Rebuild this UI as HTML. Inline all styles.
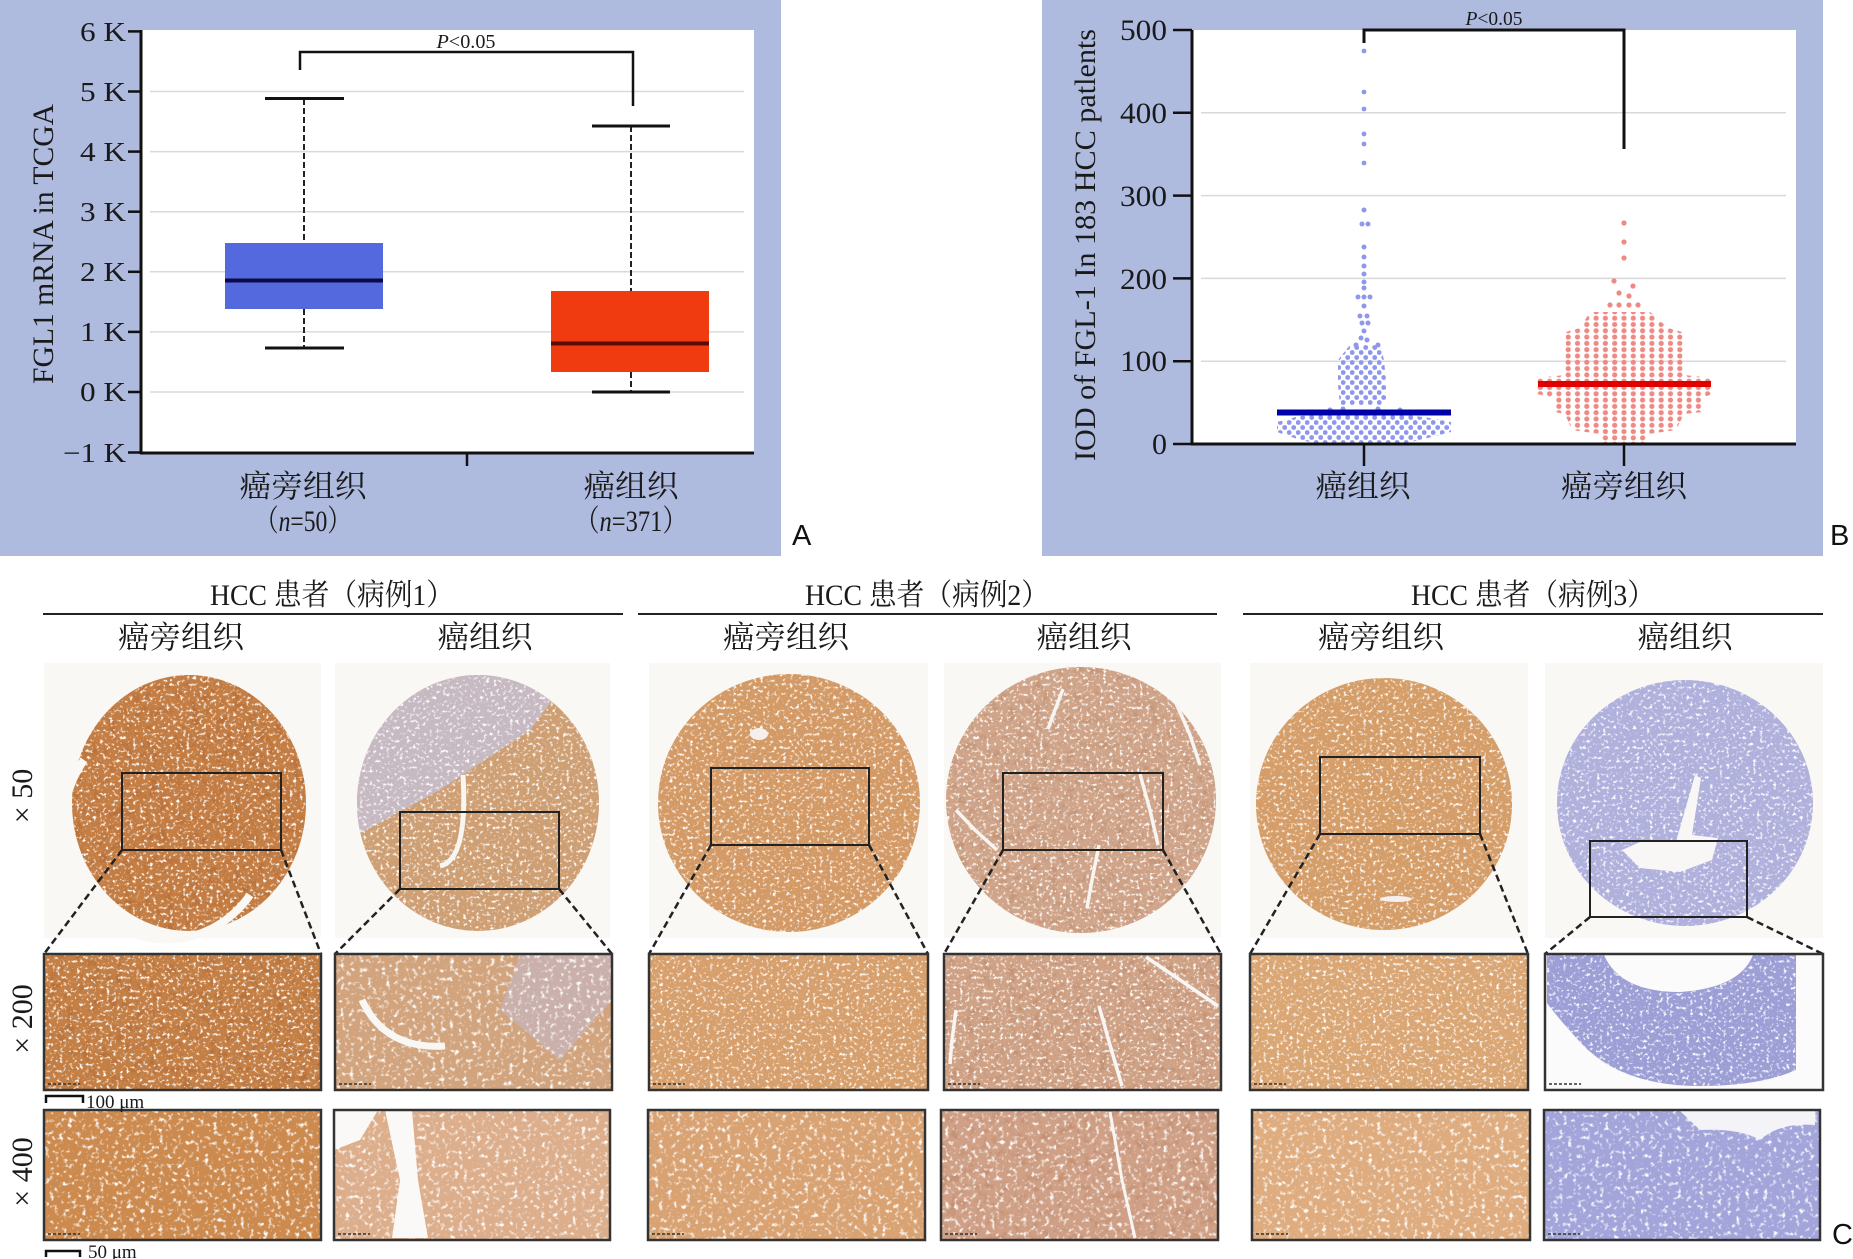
<!DOCTYPE html>
<html><head><meta charset="utf-8"><style>
html,body{margin:0;padding:0;background:#fff;}
svg{display:block;}
.s{font-family:"Liberation Serif","Noto Serif CJK SC",serif;fill:#1a1a1a;}
.a{font-family:"Liberation Sans",sans-serif;fill:#111;}
</style></head><body>
<svg xmlns="http://www.w3.org/2000/svg" width="1853" height="1259" viewBox="0 0 1853 1259">
<defs>
<filter id="fw" x="0" y="0" width="1" height="1">
<feTurbulence type="fractalNoise" baseFrequency="0.22" numOctaves="2" seed="4" result="n"/>
<feColorMatrix in="n" type="matrix" values="0 0 0 0 0 0 0 0 0 0 0 0 0 0 0 4 0 0 0 -2.2" result="m"/>
<feComposite in="SourceGraphic" in2="m" operator="in"/>
</filter>
<filter id="fw2" x="0" y="0" width="1" height="1">
<feTurbulence type="fractalNoise" baseFrequency="0.3" numOctaves="2" seed="11" result="n"/>
<feColorMatrix in="n" type="matrix" values="0 0 0 0 0 0 0 0 0 0 0 0 0 0 0 4.5 0 0 0 -2.5" result="m"/>
<feComposite in="SourceGraphic" in2="m" operator="in"/>
</filter>
<filter id="fd" x="0" y="0" width="1" height="1">
<feTurbulence type="fractalNoise" baseFrequency="0.12" numOctaves="2" seed="9" result="n"/>
<feColorMatrix in="n" type="matrix" values="0 0 0 0 0 0 0 0 0 0 0 0 0 0 0 0 -4 0 0 1.9" result="m"/>
<feComposite in="SourceGraphic" in2="m" operator="in"/>
</filter>
<pattern id="rdot" patternUnits="userSpaceOnUse" x="1619.35" y="0" width="9.3" height="6.3">
<circle cx="4.65" cy="3.15" r="2.6" fill="#ee8984"/>
</pattern>
<pattern id="bdot" patternUnits="userSpaceOnUse" x="0" y="0" width="9" height="10">
<circle cx="2.2" cy="2.5" r="2.4" fill="#8e96ee"/>
<circle cx="6.7" cy="7.5" r="2.4" fill="#8e96ee"/>
</pattern>
<clipPath id="cp2"><ellipse cx="478" cy="803" rx="121" ry="128"/></clipPath>
<clipPath id="cp6"><ellipse cx="1685" cy="803" rx="128" ry="123"/></clipPath>
</defs>
<rect width="1853" height="1259" fill="#fff"/>

<!-- ===== Panel A ===== -->
<rect x="0" y="0" width="781" height="556" fill="#aebbdf"/>
<rect x="141" y="30" width="613" height="423" fill="#fff"/>
<g stroke="#d9d9d9" stroke-width="1.5">
<line x1="150" y1="91.5" x2="744" y2="91.5"/>
<line x1="150" y1="151.6" x2="744" y2="151.6"/>
<line x1="150" y1="211.7" x2="744" y2="211.7"/>
<line x1="150" y1="271.8" x2="744" y2="271.8"/>
<line x1="150" y1="331.9" x2="744" y2="331.9"/>
<line x1="150" y1="392" x2="744" y2="392"/>
</g>
<!-- box 1 -->
<line x1="304" y1="99" x2="304" y2="243" stroke="#222" stroke-width="2" stroke-dasharray="6,3"/>
<line x1="304" y1="309" x2="304" y2="348" stroke="#222" stroke-width="2" stroke-dasharray="6,3"/>
<line x1="265" y1="98.5" x2="344" y2="98.5" stroke="#111" stroke-width="3"/>
<line x1="265" y1="348" x2="344" y2="348" stroke="#111" stroke-width="3"/>
<rect x="225" y="243" width="158" height="66" fill="#5569df"/>
<line x1="225" y1="280.5" x2="383" y2="280.5" stroke="#0b0b4a" stroke-width="4"/>
<!-- box 2 -->
<line x1="631" y1="126" x2="631" y2="291" stroke="#222" stroke-width="2" stroke-dasharray="6,3"/>
<line x1="631" y1="372" x2="631" y2="392" stroke="#222" stroke-width="2" stroke-dasharray="6,3"/>
<line x1="592" y1="126" x2="670" y2="126" stroke="#111" stroke-width="3"/>
<line x1="592" y1="392" x2="670" y2="392" stroke="#111" stroke-width="3"/>
<rect x="551" y="291" width="158" height="81" fill="#f03a10"/>
<line x1="551" y1="343.5" x2="709" y2="343.5" stroke="#5a0c05" stroke-width="4"/>
<!-- bracket -->
<path d="M300 70 V52 H633 V106" fill="none" stroke="#111" stroke-width="2.5"/>
<text class="s" x="466" y="48" font-size="20" text-anchor="middle" textLength="59" lengthAdjust="spacingAndGlyphs"><tspan font-style="italic">P</tspan>&lt;0.05</text>
<!-- axes -->
<line x1="141" y1="30" x2="141" y2="454" stroke="#111" stroke-width="3"/>
<line x1="140" y1="453" x2="754" y2="453" stroke="#111" stroke-width="3"/>
<line x1="467" y1="453" x2="467" y2="466" stroke="#111" stroke-width="2.5"/>
<g stroke="#111" stroke-width="2.5">
<line x1="128" y1="31.4" x2="141" y2="31.4"/>
<line x1="128" y1="91.5" x2="141" y2="91.5"/>
<line x1="128" y1="151.6" x2="141" y2="151.6"/>
<line x1="128" y1="211.7" x2="141" y2="211.7"/>
<line x1="128" y1="271.8" x2="141" y2="271.8"/>
<line x1="128" y1="331.9" x2="141" y2="331.9"/>
<line x1="128" y1="392" x2="141" y2="392"/>
<line x1="128" y1="452.5" x2="141" y2="452.5"/>
</g>
<g class="s" font-size="27" text-anchor="end">
<text x="126" y="41" textLength="46" lengthAdjust="spacingAndGlyphs">6 K</text>
<text x="126" y="101" textLength="46" lengthAdjust="spacingAndGlyphs">5 K</text>
<text x="126" y="161" textLength="46" lengthAdjust="spacingAndGlyphs">4 K</text>
<text x="126" y="221" textLength="46" lengthAdjust="spacingAndGlyphs">3 K</text>
<text x="126" y="281" textLength="46" lengthAdjust="spacingAndGlyphs">2 K</text>
<text x="126" y="341" textLength="46" lengthAdjust="spacingAndGlyphs">1 K</text>
<text x="126" y="401" textLength="46" lengthAdjust="spacingAndGlyphs">0 K</text>
<text x="126" y="462" textLength="63" lengthAdjust="spacingAndGlyphs">−1 K</text>
</g>
<text class="s" font-size="30" text-anchor="middle" transform="translate(53,244) rotate(-90)" textLength="280" lengthAdjust="spacingAndGlyphs">FGL1 mRNA in TCGA</text>
<g class="s" text-anchor="middle">
<text x="303" y="497" font-size="31" textLength="127" lengthAdjust="spacingAndGlyphs">癌旁组织</text>
<text x="303" y="531" font-size="30" textLength="96" lengthAdjust="spacingAndGlyphs">（<tspan font-style="italic">n</tspan>=50）</text>
<text x="631" y="497" font-size="31" textLength="95" lengthAdjust="spacingAndGlyphs">癌组织</text>
<text x="631" y="531" font-size="30" textLength="112" lengthAdjust="spacingAndGlyphs">（<tspan font-style="italic">n</tspan>=371）</text>
</g>
<text class="a" x="792" y="545" font-size="29">A</text>

<!-- ===== Panel B ===== -->
<rect x="1042" y="0" width="781" height="556" fill="#aebbdf"/>
<rect x="1192" y="30" width="604" height="414" fill="#fff"/>
<g stroke="#d9d9d9" stroke-width="1.5">
<line x1="1201" y1="112.8" x2="1786" y2="112.8"/>
<line x1="1201" y1="195.6" x2="1786" y2="195.6"/>
<line x1="1201" y1="278.4" x2="1786" y2="278.4"/>
<line x1="1201" y1="361.2" x2="1786" y2="361.2"/>
</g>
<!-- red dots -->
<polygon points="1590,312 1650,312 1668,328 1682,332 1684,375 1712,378 1712,394 1702,398 1702,412 1684,414 1676,430 1648,434 1646,444 1602,444 1600,434 1572,430 1565,414 1555,412 1555,398 1537,394 1537,378 1565,375 1566,332 1580,328" fill="url(#rdot)"/>
<g fill="#ee8984">
<circle cx="1624" cy="223" r="2.6"/><circle cx="1624" cy="242" r="2.6"/><circle cx="1624" cy="258" r="2.6"/>
<circle cx="1614" cy="281" r="2.6"/><circle cx="1633" cy="286" r="2.6"/><circle cx="1619" cy="293" r="2.6"/>
<circle cx="1629" cy="296" r="2.6"/><circle cx="1610" cy="305" r="2.6"/><circle cx="1619" cy="305" r="2.6"/>
<circle cx="1629" cy="305" r="2.6"/><circle cx="1638" cy="305" r="2.6"/>
</g>
<line x1="1538" y1="384" x2="1711" y2="384" stroke="#e00000" stroke-width="6"/>
<!-- blue dots -->
<polygon points="1277,422 1300,416 1330,414 1400,414 1430,418 1451,422 1451,432 1420,440 1400,444 1320,444 1300,440 1277,432" fill="url(#bdot)"/>
<polygon points="1350,345 1380,345 1384,360 1386,380 1386,405 1340,405 1338,385 1338,360" fill="url(#bdot)"/>
<g fill="#8e96ee">
<circle cx="1364" cy="51" r="2.4"/><circle cx="1364" cy="92" r="2.4"/><circle cx="1364" cy="109" r="2.4"/>
<circle cx="1364" cy="134" r="2.4"/><circle cx="1364" cy="144" r="2.4"/><circle cx="1364" cy="163" r="2.4"/>
<circle cx="1364" cy="210" r="2.5"/><circle cx="1362" cy="224" r="2.5"/><circle cx="1368" cy="224" r="2.5"/>
<circle cx="1364" cy="247" r="2.5"/><circle cx="1364" cy="257" r="2.5"/>
<circle cx="1364" cy="266" r="2.5"/><circle cx="1364" cy="274" r="2.5"/><circle cx="1364" cy="282" r="2.5"/><circle cx="1364" cy="288" r="2.5"/>
<circle cx="1358" cy="297" r="2.5"/><circle cx="1364" cy="297" r="2.5"/><circle cx="1370" cy="297" r="2.5"/>
<circle cx="1364" cy="306" r="2.5"/><circle cx="1360" cy="316" r="2.5"/><circle cx="1367" cy="316" r="2.5"/>
<circle cx="1362" cy="323" r="2.5"/><circle cx="1368" cy="323" r="2.5"/><circle cx="1364" cy="331" r="2.5"/>
<circle cx="1361" cy="338" r="2.5"/><circle cx="1367" cy="340" r="2.5"/><circle cx="1356" cy="345" r="2.5"/><circle cx="1378" cy="345" r="2.5"/>
<circle cx="1330" cy="410" r="2.5"/><circle cx="1400" cy="410" r="2.5"/><circle cx="1343" cy="409" r="2.5"/><circle cx="1378" cy="409" r="2.5"/>
</g>
<line x1="1277" y1="412.5" x2="1451" y2="412.5" stroke="#0000a8" stroke-width="6"/>
<!-- bracket -->
<path d="M1364 43 V30 H1624 V149" fill="none" stroke="#111" stroke-width="3"/>
<text class="s" x="1494" y="25" font-size="20" text-anchor="middle" textLength="57" lengthAdjust="spacingAndGlyphs"><tspan font-style="italic">P</tspan>&lt;0.05</text>
<!-- axes -->
<line x1="1192" y1="30" x2="1192" y2="445" stroke="#111" stroke-width="3"/>
<line x1="1191" y1="444" x2="1796" y2="444" stroke="#111" stroke-width="3"/>
<line x1="1364" y1="444" x2="1364" y2="466" stroke="#111" stroke-width="2.5"/>
<line x1="1624" y1="444" x2="1624" y2="466" stroke="#111" stroke-width="2.5"/>
<g stroke="#111" stroke-width="2.5">
<line x1="1173" y1="30" x2="1192" y2="30"/>
<line x1="1173" y1="112.8" x2="1192" y2="112.8"/>
<line x1="1173" y1="195.6" x2="1192" y2="195.6"/>
<line x1="1173" y1="278.4" x2="1192" y2="278.4"/>
<line x1="1173" y1="361.2" x2="1192" y2="361.2"/>
<line x1="1173" y1="444" x2="1192" y2="444"/>
</g>
<g class="s" font-size="30" text-anchor="end">
<text x="1167" y="40" textLength="47" lengthAdjust="spacingAndGlyphs">500</text>
<text x="1167" y="123" textLength="47" lengthAdjust="spacingAndGlyphs">400</text>
<text x="1167" y="206" textLength="47" lengthAdjust="spacingAndGlyphs">300</text>
<text x="1167" y="289" textLength="47" lengthAdjust="spacingAndGlyphs">200</text>
<text x="1167" y="371" textLength="47" lengthAdjust="spacingAndGlyphs">100</text>
<text x="1167" y="454">0</text>
</g>
<text class="s" font-size="30" text-anchor="middle" transform="translate(1095,245) rotate(-90)" textLength="432" lengthAdjust="spacingAndGlyphs">IOD of FGL-1 In 183 HCC patlents</text>
<g class="s" text-anchor="middle" font-size="31">
<text x="1363" y="497" textLength="95" lengthAdjust="spacingAndGlyphs">癌组织</text>
<text x="1624" y="497" textLength="126" lengthAdjust="spacingAndGlyphs">癌旁组织</text>
</g>
<text class="a" x="1830" y="545" font-size="29">B</text>

<!-- ===== Panel C headers ===== -->
<g class="s" text-anchor="middle" font-size="30">
<text x="332" y="605" textLength="244" lengthAdjust="spacingAndGlyphs">HCC 患者（病例1）</text>
<text x="927" y="605" textLength="244" lengthAdjust="spacingAndGlyphs">HCC 患者（病例2）</text>
<text x="1533" y="605" textLength="244" lengthAdjust="spacingAndGlyphs">HCC 患者（病例3）</text>
</g>
<g stroke="#222" stroke-width="2">
<line x1="43" y1="614" x2="623" y2="614"/>
<line x1="638" y1="614" x2="1217" y2="614"/>
<line x1="1243" y1="614" x2="1823" y2="614"/>
</g>
<g class="s" text-anchor="middle" font-size="31">
<text x="181" y="648" textLength="126" lengthAdjust="spacingAndGlyphs">癌旁组织</text>
<text x="485" y="648" textLength="95" lengthAdjust="spacingAndGlyphs">癌组织</text>
<text x="786" y="648" textLength="126" lengthAdjust="spacingAndGlyphs">癌旁组织</text>
<text x="1084" y="648" textLength="95" lengthAdjust="spacingAndGlyphs">癌组织</text>
<text x="1381" y="648" textLength="126" lengthAdjust="spacingAndGlyphs">癌旁组织</text>
<text x="1685" y="648" textLength="95" lengthAdjust="spacingAndGlyphs">癌组织</text>
</g>
<g class="s" text-anchor="middle" font-size="30">
<text transform="translate(32,796) rotate(-90)">× 50</text>
<text transform="translate(32,1019) rotate(-90)">× 200</text>
<text transform="translate(32,1172) rotate(-90)">× 400</text>
</g>

<!-- ===== Row 1 (TMA cores) ===== -->
<g fill="#f9f8f5">
<rect x="44" y="663" width="277" height="275"/>
<rect x="335" y="663" width="275" height="275"/>
<rect x="649" y="663" width="279" height="275"/>
<rect x="944" y="663" width="277" height="275"/>
<rect x="1250" y="663" width="278" height="275"/>
<rect x="1545" y="663" width="278" height="275"/>
</g>
<!-- disc 1 -->
<ellipse cx="189" cy="803" rx="117" ry="128" fill="#c47d43"/>
<ellipse cx="189" cy="803" rx="117" ry="128" fill="#ae6530" filter="url(#fd)" opacity="0.5"/>
<ellipse cx="189" cy="803" rx="117" ry="128" fill="#fff" filter="url(#fw2)"/>
<path d="M84 760 A104 112 0 0 0 250 895" fill="none" stroke="#f9f8f5" stroke-width="8"/>
<!-- disc 2 -->
<ellipse cx="478" cy="803" rx="121" ry="128" fill="#cf9f74"/>
<g clip-path="url(#cp2)">
<polygon points="357,670 575,670 530,730 440,790 357,835" fill="#c4bdd0" opacity="0.85"/>
<ellipse cx="478" cy="803" rx="121" ry="128" fill="#fff" filter="url(#fw2)"/>
</g>
<path d="M463 775 Q468 860 440 866" fill="none" stroke="#f8f6f2" stroke-width="5"/>
<!-- disc 3 -->
<ellipse cx="789" cy="803" rx="131" ry="129" fill="#d49a66"/>
<ellipse cx="789" cy="803" rx="131" ry="129" fill="#fff" filter="url(#fw2)"/>
<ellipse cx="759" cy="734" rx="9" ry="6" fill="#f4f0ee"/>
<!-- disc 4 -->
<ellipse cx="1081" cy="800" rx="135" ry="133" fill="#cfa489"/>
<ellipse cx="1081" cy="800" rx="135" ry="133" fill="#b27a58" filter="url(#fd)" opacity="0.35"/>
<ellipse cx="1081" cy="800" rx="135" ry="133" fill="#fff" filter="url(#fw2)"/>
<g fill="none" stroke="#f7f5f2" stroke-width="3.5">
<path d="M1063 689 L1055 710 L1048 729"/>
<path d="M1176 703 L1190 735 L1200 765"/>
<path d="M1140 774 L1150 810 L1158 845"/>
<path d="M1099 845 L1092 880 L1087 908"/>
<path d="M956 810 L975 830 L997 850"/>
</g>
<!-- disc 5 -->
<ellipse cx="1384" cy="804" rx="128" ry="126" fill="#d59d68"/>
<ellipse cx="1384" cy="804" rx="128" ry="126" fill="#fff" filter="url(#fw2)"/>
<ellipse cx="1396" cy="899" rx="16" ry="3" fill="#f4f0f0"/>
<!-- disc 6 -->
<ellipse cx="1685" cy="803" rx="128" ry="123" fill="#b0b0dc"/>
<ellipse cx="1685" cy="803" rx="128" ry="123" fill="#fff" filter="url(#fw2)"/>
<path d="M1695 775 L1701 778 L1692 835 L1718 838 L1712 860 L1680 872 L1640 868 L1622 850 L1640 842 L1676 842 Z" fill="#f8f7f6"/>
<!-- inner rects -->
<g fill="none" stroke="#222" stroke-width="2">
<rect x="122" y="773" width="159" height="77"/>
<rect x="400" y="812" width="159" height="77"/>
<rect x="711" y="768" width="158" height="77"/>
<rect x="1003" y="773" width="160" height="77"/>
<rect x="1320" y="757" width="160" height="77"/>
<rect x="1590" y="841" width="157" height="76"/>
</g>
<g stroke="#222" stroke-width="2.5" stroke-dasharray="7,4">
<line x1="122" y1="850" x2="44" y2="954"/><line x1="281" y1="850" x2="321" y2="954"/>
<line x1="400" y1="889" x2="335" y2="954"/><line x1="559" y1="889" x2="612" y2="954"/>
<line x1="711" y1="845" x2="649" y2="954"/><line x1="869" y1="845" x2="928" y2="954"/>
<line x1="1003" y1="850" x2="944" y2="954"/><line x1="1163" y1="850" x2="1221" y2="954"/>
<line x1="1320" y1="834" x2="1250" y2="954"/><line x1="1480" y1="834" x2="1528" y2="954"/>
<line x1="1590" y1="917" x2="1545" y2="954"/><line x1="1747" y1="917" x2="1823" y2="954"/>
</g>

<!-- ===== Row 2 ===== -->
<rect x="44" y="954" width="277" height="136" fill="#c47f45"/>
<rect x="44" y="954" width="277" height="136" fill="#a8602c" filter="url(#fd)" opacity="0.45"/>
<rect x="44" y="954" width="277" height="136" fill="#fff" filter="url(#fw2)"/>

<rect x="335" y="954" width="277" height="136" fill="#d2a47e"/>
<polygon points="520,954 612,954 612,1000 560,1060 500,1010" fill="#c3bad0" opacity="0.55"/>
<rect x="335" y="954" width="277" height="136" fill="#fff" filter="url(#fw)"/>
<path d="M362 1000 Q385 1050 445 1046" fill="none" stroke="#f9f7f4" stroke-width="7"/>

<rect x="649" y="954" width="279" height="136" fill="#d69f6c"/>
<rect x="649" y="954" width="279" height="136" fill="#fff" filter="url(#fw2)"/>

<rect x="944" y="954" width="277" height="136" fill="#cfa286"/>
<rect x="944" y="954" width="277" height="136" fill="#b07452" filter="url(#fd)" opacity="0.35"/>
<rect x="944" y="954" width="277" height="136" fill="#fff" filter="url(#fw2)"/>
<g fill="none" stroke="#f8f6f4" stroke-width="3.5">
<path d="M1146 957 L1180 980 L1218 1006"/>
<path d="M956 1010 L952 1040 L950 1064"/>
<path d="M1099 1006 L1110 1045 L1122 1086"/>
</g>

<rect x="1250" y="954" width="278" height="136" fill="#daa674"/>
<rect x="1250" y="954" width="278" height="136" fill="#fff" filter="url(#fw2)"/>

<rect x="1545" y="954" width="278" height="136" fill="#fbfbfc"/>
<path d="M1547 955 H1604 Q1620 992 1680 992 Q1740 988 1753 955 H1796 V1070 Q1760 1086 1700 1086 Q1620 1086 1580 1042 Q1558 1018 1547 1003 Z" fill="#9c9ed6"/>
<path d="M1547 955 H1604 Q1620 992 1680 992 Q1740 988 1753 955 H1796 V1070 Q1760 1086 1700 1086 Q1620 1086 1580 1042 Q1558 1018 1547 1003 Z" fill="#fff" filter="url(#fw2)"/>

<g fill="none" stroke="#333" stroke-width="2.5">
<rect x="44" y="954" width="277" height="136"/>
<rect x="335" y="954" width="277" height="136"/>
<rect x="649" y="954" width="279" height="136"/>
<rect x="944" y="954" width="277" height="136"/>
<rect x="1250" y="954" width="278" height="136"/>
<rect x="1545" y="954" width="278" height="136"/>
</g>

<!-- ===== Row 3 ===== -->
<rect x="44" y="1110" width="277" height="130" fill="#cc8a4e"/>
<rect x="44" y="1110" width="277" height="130" fill="#fff" filter="url(#fw)"/>

<rect x="334" y="1110" width="276" height="130" fill="#dcae8c"/>
<rect x="334" y="1110" width="276" height="130" fill="#fff" filter="url(#fw)"/>
<path d="M385 1110 L412 1110 L418 1180 L428 1238 L392 1238 L400 1180 Z" fill="#faf9f7"/>
<path d="M334 1110 L378 1110 L360 1140 L334 1150 Z" fill="#faf9f7"/>

<rect x="648" y="1110" width="277" height="130" fill="#d9a272"/>
<rect x="648" y="1110" width="277" height="130" fill="#fff" filter="url(#fw)"/>

<rect x="941" y="1110" width="277" height="130" fill="#cfa086"/>
<rect x="941" y="1110" width="277" height="130" fill="#b07452" filter="url(#fd)" opacity="0.35"/>
<rect x="941" y="1110" width="277" height="130" fill="#fff" filter="url(#fw)"/>
<path d="M1110 1112 L1122 1180 L1135 1238" fill="none" stroke="#f8f6f4" stroke-width="3"/>

<rect x="1252" y="1110" width="278" height="130" fill="#deac7e"/>
<rect x="1252" y="1110" width="278" height="130" fill="#fff" filter="url(#fw)"/>

<rect x="1544" y="1110" width="276" height="130" fill="#a2a4da"/>
<rect x="1544" y="1110" width="276" height="130" fill="#fff" filter="url(#fw)"/>
<path d="M1680 1111 H1815 V1125 Q1780 1122 1760 1140 Q1740 1128 1700 1130 Z" fill="#f4f4f8"/>

<g fill="none" stroke="#333" stroke-width="2.5">
<rect x="44" y="1110" width="277" height="130"/>
<rect x="334" y="1110" width="276" height="130"/>
<rect x="648" y="1110" width="277" height="130"/>
<rect x="941" y="1110" width="277" height="130"/>
<rect x="1252" y="1110" width="278" height="130"/>
<rect x="1544" y="1110" width="276" height="130"/>
</g>
<!-- tiny rulers inside images -->
<g stroke="#333" stroke-width="1.5" stroke-dasharray="3,2">
<line x1="48" y1="1084" x2="80" y2="1084"/><line x1="339" y1="1084" x2="371" y2="1084"/>
<line x1="653" y1="1084" x2="685" y2="1084"/><line x1="948" y1="1084" x2="980" y2="1084"/>
<line x1="1254" y1="1084" x2="1286" y2="1084"/><line x1="1549" y1="1084" x2="1581" y2="1084"/>
<line x1="48" y1="1234" x2="80" y2="1234"/><line x1="338" y1="1234" x2="370" y2="1234"/>
<line x1="652" y1="1234" x2="684" y2="1234"/><line x1="945" y1="1234" x2="977" y2="1234"/>
<line x1="1256" y1="1234" x2="1288" y2="1234"/><line x1="1548" y1="1234" x2="1580" y2="1234"/>
</g>
<!-- scale bars -->
<path d="M46 1103 V1096 H83 V1103" fill="none" stroke="#111" stroke-width="2.5"/>
<text class="s" x="86" y="1108" font-size="19">100 μm</text>
<path d="M46 1257 V1251 H80 V1257" fill="none" stroke="#111" stroke-width="2.5"/>
<text class="s" x="88" y="1258" font-size="19">50 μm</text>
<text class="a" x="1832" y="1244" font-size="29">C</text>
</svg>
</body></html>
